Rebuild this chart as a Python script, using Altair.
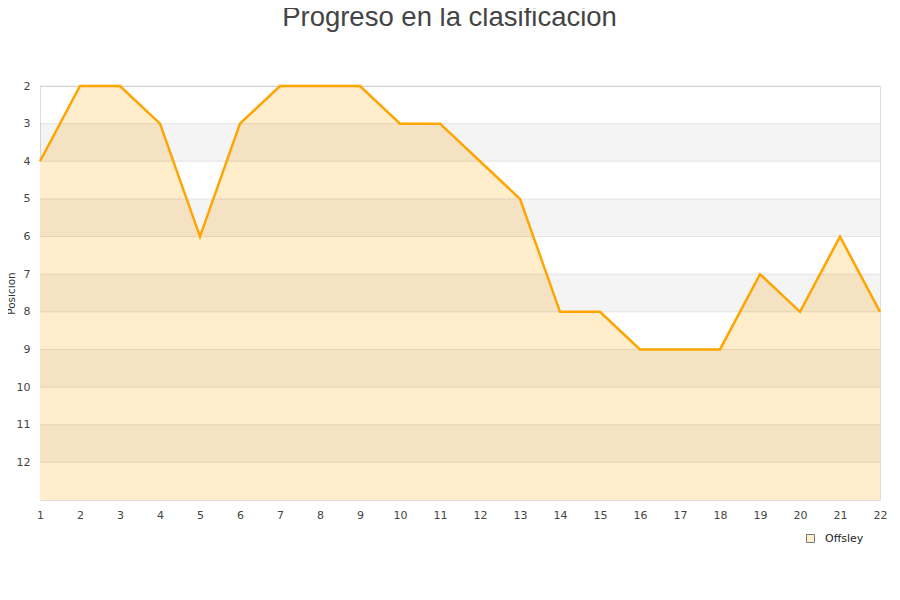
import altair as alt
import pandas as pd

jornadas = list(range(1, 23))
posicion = [4, 2, 2, 3, 6, 3, 2, 2, 2, 3, 3, 4, 5, 8, 8, 9, 9, 9, 7, 8, 6, 8]
equipo = "Offsley"

band_start = [3, 5, 7, 9, 11]
band_end = [4, 6, 8, 10, 12]
grid_values = [2, 3, 4, 5, 6, 7, 8, 9, 10, 11, 12]

df = pd.DataFrame({"Jornada": jornadas, "Posicion": posicion, "Equipo": [equipo] * len(jornadas)})
bands = pd.DataFrame({"y": band_start, "y2": band_end})
grid = pd.DataFrame({"y": grid_values})

W, H = 840, 414

xscale = alt.Scale(domain=[1, 22], nice=False, zero=False)
yscale = alt.Scale(domain=[2, 13], reverse=True, nice=False, zero=False)

yaxis = alt.Axis(values=grid_values, ticks=False, domain=False, grid=False,
                 labelPadding=10, labelFont="DejaVu Sans",
                 labelFontSize=11, labelColor="#444444", title="Posicion",
                 titleFont="DejaVu Sans", titleFontSize=10.5, titleFontWeight="normal",
                 titleColor="#333333", titleX=-29, titleY=H / 2, titleAngle=-90,
                 titleAlign="center", titleBaseline="middle")
xaxis = alt.Axis(values=jornadas, ticks=False, domain=False, grid=False,
                 labelPadding=9, labelFont="DejaVu Sans", labelFontSize=11,
                 labelColor="#444444", title=None, labelFlush=False,
                 labelOverlap=False)

area = alt.Chart(df).mark_area(opacity=1).encode(
    x=alt.X("Jornada:Q", scale=xscale, axis=xaxis),
    y=alt.Y("Posicion:Q", scale=yscale, axis=yaxis),
    y2=alt.Y2(datum=13),
    fill=alt.Fill("Equipo:N", scale=alt.Scale(range=["#FFEDCC"]),
                  legend=alt.Legend(orient="none", legendX=765, legendY=447,
                                    title=None, symbolType="square", symbolSize=64,
                                    symbolStrokeColor="#777777", symbolStrokeWidth=1,
                                    labelOffset=9,
                                    labelFont="DejaVu Sans", labelFontSize=11,
                                    labelColor="#222222")),
)

band_layer = alt.Chart(bands).mark_rect(color="#000000", opacity=0.045).encode(
    x=alt.value(0), x2=alt.value(W),
    y=alt.Y("y:Q", scale=yscale, axis=yaxis),
    y2="y2:Q",
)

grid_layer = alt.Chart(grid).mark_rule(color="#000000", opacity=0.09, strokeWidth=1).encode(
    x=alt.value(0), x2=alt.value(W),
    y=alt.Y("y:Q", scale=yscale, axis=yaxis),
)

line = alt.Chart(df).mark_line(color="#FFA500", strokeWidth=2.5).encode(
    x=alt.X("Jornada:Q", scale=xscale, axis=xaxis),
    y=alt.Y("Posicion:Q", scale=yscale, axis=yaxis),
)

chart = alt.layer(area, band_layer, grid_layer, line).properties(
    width=W, height=H,
    title=alt.TitleParams("Progreso en la clasificacion", font="Liberation Sans",
                          fontSize=27.5, fontWeight="normal", color="#444444",
                          anchor="middle", dx=-10.5, offset=49),
    autosize=alt.AutoSizeParams(type="none"),
    padding={"left": 32, "top": 78, "right": 12, "bottom": 90},
).configure_view(stroke="#DDDDDD", strokeWidth=1).configure(
    background="white").configure_axisX(labelOverlap=False)

chart.save("out.html", embed_options={"renderer": "svg", "actions": False})
